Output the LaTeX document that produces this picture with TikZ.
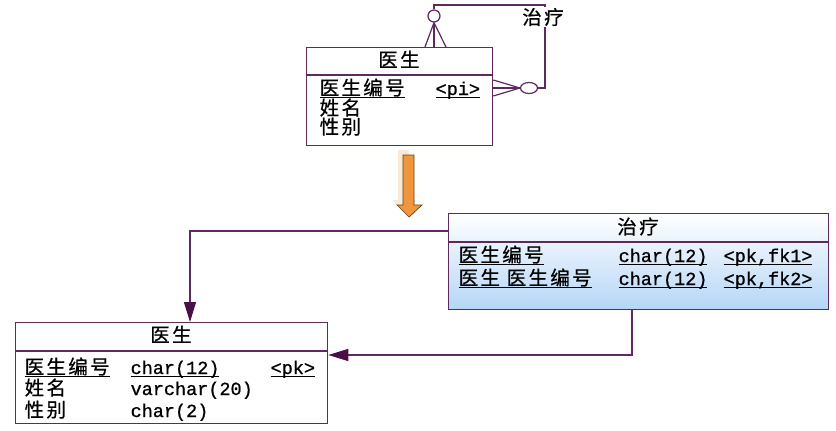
\documentclass[tikz,border=0pt]{standalone}
\usepackage{fontspec}
\newfontfamily\cjk[LetterSpace=12,FakeBold=0.6]{Noto Sans CJK SC}
\newfontfamily\mono[FakeBold=0.8]{Liberation Mono}
\usetikzlibrary{arrows.meta,shapes.geometric}
\definecolor{ln}{HTML}{5C2A5E}
\definecolor{tip}{HTML}{4A0F44}
\definecolor{org}{HTML}{F0963C}
\definecolor{blu}{HTML}{B5D6F6}
\newcommand\myul[1]{\leavevmode\setbox0\hbox{#1}\rlap{\rule[-3pt]{\wd0}{0.9pt}}\box0}
\begin{document}
\begin{tikzpicture}[x=1pt,y=-1pt,line width=1.3pt,
  ent/.style={draw=ln,fill=white,inner sep=0pt,anchor=north west},
  cj/.style={anchor=base west,inner sep=0pt,font=\fontsize{19.5}{19.5}\selectfont\cjk},
  cjt/.style={anchor=base,inner sep=0pt,font=\fontsize{19.5}{19.5}\selectfont\cjk},
  mt/.style={anchor=base west,inner sep=0pt,font=\fontsize{18.5}{18.5}\selectfont\mono},
  conn/.style={draw=ln,-{Triangle[width=12pt,length=20pt,color=tip]}},
  rel/.style={draw=ln,line width=1.2pt},
  circ/.style={draw=ln,fill=white,ellipse,inner sep=0pt,line width=1.2pt}]
\useasboundingbox (0,0) rectangle (836,431);
% top entity
\node[ent,minimum width=186pt,minimum height=98pt] (top) at (306,47) {};
\draw[ln] ([yshift=-28pt]top.north west) -- ([yshift=-28pt]top.north east);
\node[cjt] (toptitle) at (399,67) {医生};
\node[cj] (topr1) at (319,95) {\myul{医生编号}};
\node[mt] (toppi) at (435,95) {\myul{<pi>}};
\node[cj] (topr2) at (319,115) {姓名};
\node[cj] (topr3) at (319,134) {性别};
% relationship
\node[circ,minimum width=12pt,minimum height=12pt] (o1) at (434,16) {};
\node[circ,minimum width=17pt,minimum height=11pt] (o2) at (529,88) {};
\coordinate (k1) at (545,5);
\coordinate (k2) at (545,88);
\draw[rel] (o1.north) |- (k1) -- (k2) -- (o2.east);
\draw[rel] (o1.south) -- ([xshift=119pt]top.north west);
\draw[rel] (o1.south) -- ([xshift=128pt]top.north west);
\draw[rel] (o1.south) -- ([xshift=140pt]top.north west);
\draw[rel] (o2.west) -- ([yshift=-33pt]top.north east);
\draw[rel] (o2.west) -- ([yshift=-41pt]top.north east);
\draw[rel] (o2.west) -- ([yshift=-49pt]top.north east);
\node[fill=white,inner sep=1pt,font=\fontsize{19.5}{19.5}\selectfont\cjk] (lbl) at (543,17) {治疗};
% orange arrow
\fill[org!30,opacity=.7] (398,150) -- (409,150) -- (409,200) -- (417,200) -- (404,212) -- (392,200) -- (398,200) -- cycle;
\filldraw[fill=org,draw=brown!50!black,line width=0.7pt] (403,155) -- (414,155) -- (414,205) -- (422,205) -- (409,217) -- (397,205) -- (403,205) -- cycle;
% treatment table
\node[ent,minimum width=380pt,minimum height=96pt,top color=white,bottom color=blu] (t2) at (448,213) {};
\draw[ln] ([yshift=-29pt]t2.north west) -- ([yshift=-29pt]t2.north east);
\node[cjt] (t2title) at (638,234) {治疗};
\node[cj] (t2r1a) at (458,262) {\myul{医生编号}};
\node[mt] (t2r1b) at (618,262) {\myul{char(12)}};
\node[mt] (t2r1c) at (723,262) {\myul{<pk,fk1>}};
\node[cj] (t2r2a) at (458,285) {\myul{医生\ 医生编号}};
\node[mt] (t2r2b) at (618,285) {\myul{char(12)}};
\node[mt] (t2r2c) at (723,285) {\myul{<pk,fk2>}};
% doctor table
\node[ent,minimum width=312pt,minimum height=101pt] (b1) at (15,322) {};
\draw[ln] ([yshift=-29pt]b1.north west) -- ([yshift=-29pt]b1.north east);
\node[cjt] (b1title) at (171,342) {医生};
\node[cj] (b1r1a) at (24,374) {\myul{医生编号}};
\node[mt] (b1r1b) at (130,374) {\myul{char(12)}};
\node[mt] (b1r1c) at (270,374) {\myul{<pk>}};
\node[cj] (b1r2a) at (24,395) {姓名};
\node[mt] (b1r2b) at (130,395) {varchar(20)};
\node[cj] (b1r3a) at (24,417) {性别};
\node[mt] (b1r3b) at (130,417) {char(2)};
% connectors
\draw[conn] ([yshift=-18pt]t2.north west) -| ([xshift=175pt]b1.north west);
\draw[conn] ([xshift=184pt]t2.south west) |- ([yshift=-33pt]b1.north east);
\end{tikzpicture}
\end{document}
